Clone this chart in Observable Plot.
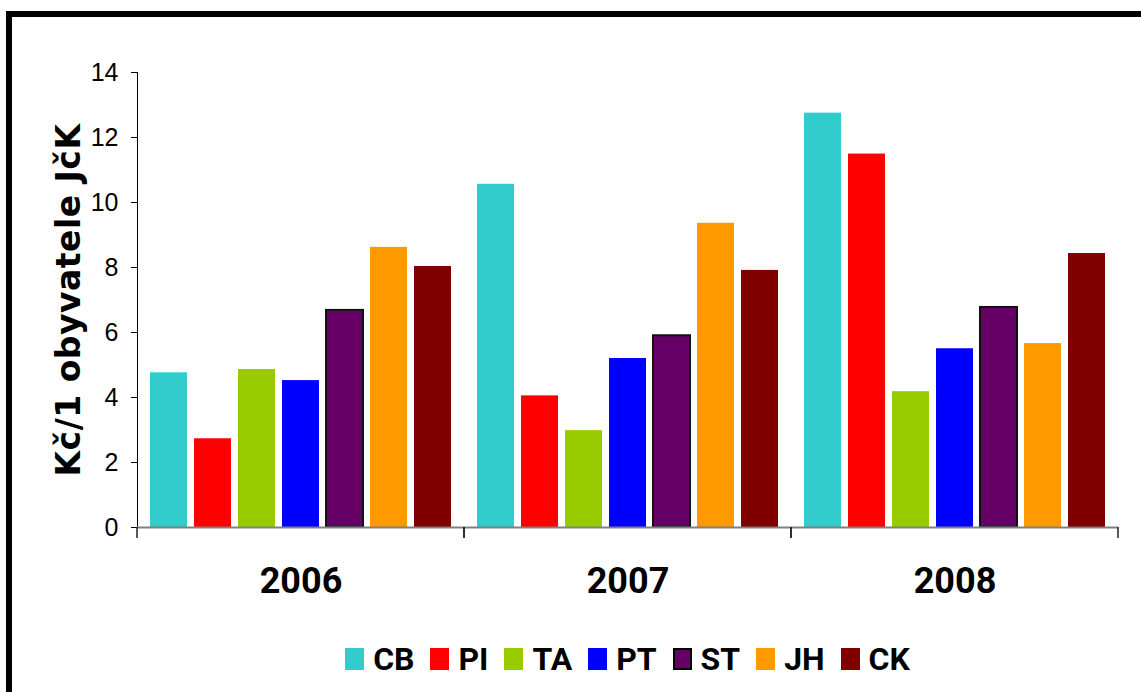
<!DOCTYPE html>
<html>
<head>
<meta charset="utf-8">
<script src="https://cdn.jsdelivr.net/npm/d3@7"></script>
<script src="https://cdn.jsdelivr.net/npm/@observablehq/plot@0.6"></script>
<style>
  html, body { margin: 0; padding: 0; background: #fff; }
  #wrap { position: relative; width: 1141px; height: 692px; overflow: hidden; background: #fff; }
  #frame { position: absolute; left: 6px; top: 11px; right: -20px; bottom: -20px;
           border-top: 6px solid #000; border-left: 6px solid #000; pointer-events: none; }
  #ytitle { position: absolute; left: 68px; top: 300px; transform: translate(-50%, -50%) rotate(-90deg);
            font-family: "DejaVu Sans", sans-serif; font-weight: bold; font-size: 33px; letter-spacing: 0.5px;
            white-space: nowrap; color: #000; }
  #legend { position: absolute; left: 137px; width: 981px; top: 640px; display: flex; justify-content: center;
            align-items: center; font-family: Roboto, sans-serif; font-weight: bold; font-size: 32px; color: #000; }
  .item { display: flex; align-items: center; margin: 0 8px; }
  .sw { width: 19px; height: 22px; margin-right: 9px; box-sizing: border-box; }
</style>
</head>
<body>
<div id="wrap">
  <div id="chart"></div>
  <div id="ytitle">Kč/1 obyvatele JčK</div>
  <div id="legend"></div>
  <div id="frame"></div>
</div>
<script>
const years = ["2006", "2007", "2008"];
const series = ["CB", "PI", "TA", "PT", "ST", "JH", "CK"];
const colors = ["#33CCCC", "#FF0000", "#99CC00", "#0000FF", "#660066", "#FF9900", "#800000"];
const CB = [4.76, 10.56, 12.75];
const PI = [2.73, 4.05, 11.49];
const TA = [4.86, 2.98, 4.18];
const PT = [4.52, 5.20, 5.50];
const ST = [6.68, 5.90, 6.77];
const JH = [8.62, 9.36, 5.66];
const CK = [8.03, 7.91, 8.43];
const yTicks = [0, 2, 4, 6, 8, 10, 12, 14];

const valuesBySeries = {CB, PI, TA, PT, ST, JH, CK};
const data = years.flatMap((year, i) => series.map(s => ({year, series: s, value: valuesBySeries[s][i]})));

function boundaryTicks(index, scales, values, dimensions) {
  const r = scales.x && scales.x.range ? scales.x.range()
    : [dimensions.marginLeft, dimensions.width - dimensions.marginRight];
  const y0 = scales.y(0);
  const g = d3.create("svg:g");
  for (const x of r) {
    g.append("line").attr("x1", x).attr("x2", x).attr("y1", y0).attr("y2", y0 + 11)
      .attr("stroke", "#222").attr("stroke-width", 1.5);
  }
  return g.node();
}

const chart = Plot.plot({
  width: 1141,
  height: 610,
  marginLeft: 137,
  marginRight: 23,
  marginTop: 72,
  marginBottom: 83,
  style: {fontFamily: "'Liberation Sans', Arial, sans-serif", fontSize: "25px", color: "#000", background: "transparent"},
  facet: {data, x: "year"},
  fx: {domain: years, padding: 0, axis: "bottom", tickSize: 0, tickPadding: 40, label: null},
  x: {domain: series, paddingInner: 0.17, paddingOuter: 0.27, axis: null},
  y: {domain: [0, 14], ticks: yTicks, tickSize: 6, tickPadding: 13, line: true, label: null},
  color: {domain: series, range: colors},
  marks: [
    Plot.barY(data, {x: "series", y: "value", fill: "series"}),
    Plot.barY(data, {filter: d => d.series === "ST", x: "series", y: "value", fill: "none", stroke: "#111", strokeWidth: 2}),
    Plot.ruleY([0], {stroke: "#808080", strokeWidth: 2}),
    boundaryTicks
  ]
});

d3.select(chart).selectAll('g[aria-label^="fx-axis"] text')
  .style("font-family", "Roboto, sans-serif").style("font-weight", "bold").style("font-size", "36px");

document.getElementById("chart").appendChild(chart);

const legend = d3.select("#legend");
series.forEach((s, i) => {
  const item = legend.append("div").attr("class", "item");
  const sw = item.append("div").attr("class", "sw").style("background", colors[i]);
  if (s === "ST") sw.style("border", "2px solid #000");
  item.append("span").text(s);
});
</script>
</body>
</html>
